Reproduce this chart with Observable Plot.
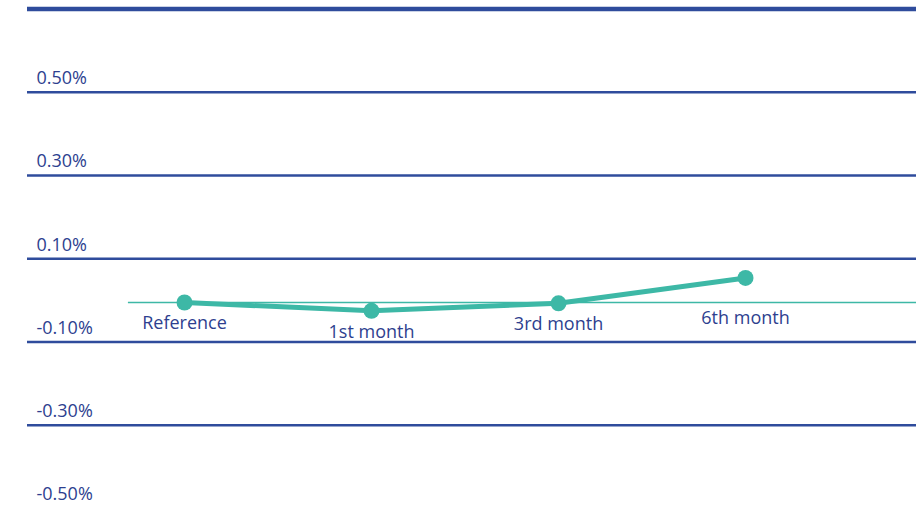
<!DOCTYPE html>
<html>
<head>
<meta charset="utf-8">
<script src="https://cdn.jsdelivr.net/npm/d3@7"></script>
<script src="https://cdn.jsdelivr.net/npm/@observablehq/plot@0.6"></script>
<style>
  html, body { margin: 0; padding: 0; background: #fff; }
  svg { display: block; }
</style>
</head>
<body>
<div id="chart"></div>
<script>
const categories = ["Reference", "1st month", "3rd month", "6th month"];
const values = [-0.005, -0.025, -0.007, 0.054];
const yTicks = [0.5, 0.3, 0.1, -0.1, -0.3, -0.5];
const topLine = [0.7];
const referenceValue = values[0];

const data = categories.map((c, i) => ({i, label: c, value: values[i]}));
const fmt = d => d.toFixed(2) + "%";

const navy = "#2e3f8f";
const grid = "#2f4c9c";
const teal = "#3db8a6";

const chart = Plot.plot({
  width: 916,
  height: 506,
  marginLeft: 27,
  marginRight: 0,
  marginTop: 0,
  marginBottom: 0,
  style: {fontFamily: "'Open Sans', sans-serif", fontSize: "18px", background: "#fff"},
  x: {type: "linear", domain: [0, 3], range: [184, 745], axis: null},
  y: {domain: [-0.5, 0.7], range: [508, 8.6], axis: null},
  marks: [
    Plot.ruleY(yTicks, {stroke: grid, strokeWidth: 2.5}),
    Plot.ruleY(topLine, {stroke: grid, strokeWidth: 4.5}),
    Plot.axisY(yTicks, {anchor: "left", tickSize: 0, tickFormat: fmt, textAnchor: "start",
      dx: 18, dy: -14, fill: navy, fontSize: 18, label: null}),
    Plot.ruleY([referenceValue], {x1: -0.3, x2: 4, stroke: teal, strokeWidth: 1.5}),
    Plot.line(data, {x: "i", y: "value", stroke: teal, strokeWidth: 5}),
    Plot.dot(data, {x: "i", y: "value", r: 8, fill: teal}),
    Plot.text(data.filter(d => d.value <= 0), {x: "i", y: "value", text: "label", dy: 21, fill: navy, fontSize: 18}),
    Plot.text(data.filter(d => d.value > 0), {x: "i", y: "value", text: "label", dy: 40, fill: navy, fontSize: 18})
  ]
});
document.getElementById("chart").appendChild(chart);
</script>
</body>
</html>
